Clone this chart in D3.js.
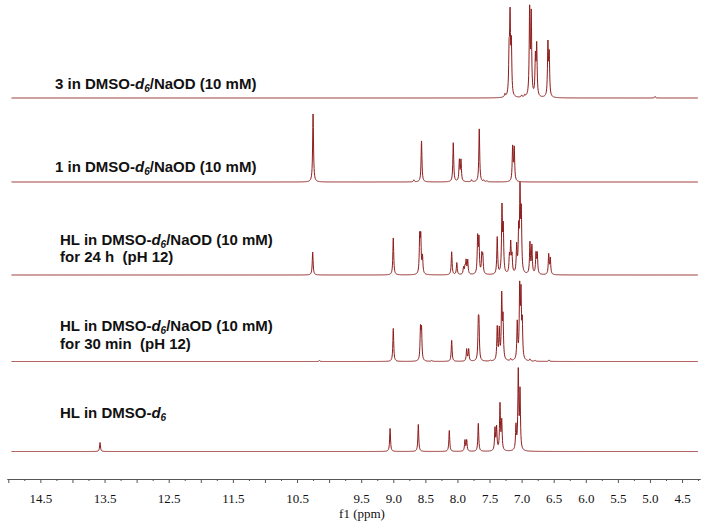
<!DOCTYPE html>
<html>
<head>
<meta charset="utf-8">
<script src="https://cdn.jsdelivr.net/npm/d3@7"></script>
<style>
  body { margin: 0; background: #fff; }
</style>
</head>
<body>
<script>

// Peak lists: shift (ppm) and peak height (arbitrary units)
var ppm3 = [7.26, 7.195, 7.18, 7.16, 7.00, 6.95, 6.875, 6.85, 6.785, 6.765, 6.59, 6.57, 4.92];
var int3 = [3, 40, 75, 50, 2, 2, 85, 80, 38, 50, 52, 41, 1.5];

var ppm1 = [10.25, 8.68, 8.56, 8.065, 7.97, 7.945, 7.78, 7.66, 7.59, 7.54, 7.14, 7.115];
var int1 = [68, 2, 41, 39, 21, 21, 2, 53, 1.5, 1, 34, 33];

var ppmHL24 = [10.256, 9.00, 8.588, 8.572, 8.545, 8.09, 8.01, 7.905, 7.882, 7.865, 7.84,
               7.685, 7.665, 7.62, 7.605, 7.38, 7.306, 7.286, 7.19, 7.17, 7.15,
               7.077, 7.046, 7.025, 7.005, 6.87, 6.84, 6.776, 6.756, 6.578, 6.553];
var intHL24 = [23, 37, 36, 35, 17, 23, 12, 7, 7, 13, 14,
               36, 34, 18, 17, 37, 65, 44, 17, 29, 17,
               27, 40, 79, 58, 31, 28, 20, 20, 20, 16];

var ppmHL30 = [10.15, 9.00, 8.576, 8.56, 8.40, 8.09, 7.856, 7.825, 7.675, 7.665, 7.49,
               7.38, 7.348, 7.31, 7.29, 7.17, 7.068, 7.03, 7.01, 6.99, 6.87, 6.79, 6.57];
var intHL30 = [1, 33, 31, 30, 1, 21, 12, 12, 33, 32, 1,
               33, 30, 63, 40, 2, 37, 69, 62, 35, 2, 1, 1.5];

var ppmHL = [13.57, 9.05, 8.61, 8.127, 7.883, 7.856, 7.675, 7.415, 7.39, 7.337, 7.31,
             7.088, 7.052, 7.025];
var intHL = [9, 23, 27, 21, 11, 11, 28, 22, 23, 46, 29, 24, 78, 58];

var labels = [
  ["3 in DMSO-d6/NaOD (10 mM)"],
  ["1 in DMSO-d6/NaOD (10 mM)"],
  ["HL in DMSO-d6/NaOD (10 mM)", "for 24 h  (pH 12)"],
  ["HL in DMSO-d6/NaOD (10 mM)", "for 30 min  (pH 12)"],
  ["HL in DMSO-d6"]
];

var tickLabels = [14.5, 13.5, 12.5, 11.5, 10.5, 9.5, 9.0, 8.5, 8.0, 7.5, 7.0, 6.5, 6.0, 5.5, 5.0, 4.5];
var majorTicks = d3.range(15.0, 4.49, -0.5);
var minorTicks = d3.range(14.75, 4.2, -0.5);

var spectra = [
  {ppm: ppm3, h: int3},
  {ppm: ppm1, h: int1},
  {ppm: ppmHL24, h: intHL24},
  {ppm: ppmHL30, h: intHL30},
  {ppm: ppmHL, h: intHL}
];

// layout
var w = 701, h = 522;
var baselines = [98, 182, 275, 361.5, 451.5];
var labelY = [[89], [172], [244.5, 262], [331, 348.5], [418]];
var labelX = [55, 55, 60, 60, 60];
var axisY = 479;
var halfWidth = 0.008;   // lorentzian half width in ppm

var svg = d3.select("body").append("svg")
    .attr("width", w)
    .attr("height", h);

// ppm axis runs right to left
var x = d3.scaleLinear()
    .domain([15.02, 4.22])
    .range([7, 700]);

var line = d3.line()
    .x(function(d) { return x(d[0]); })
    .y(function(d) { return d[1]; });

spectra.forEach(function(s, i) {

    var y = d3.scaleLinear()
        .domain([0, 100])
        .range([baselines[i], baselines[i] - 100]);

    // sample the line shape, always including the peak centres
    var grid = d3.range(14.95, 4.25, -0.004).concat(s.ppm);
    grid.sort(function(a, b) { return b - a; });

    var pts = grid.map(function(p) {
        var v = 0;
        for (var k = 0; k < s.ppm.length; k++) {
            var t = (p - s.ppm[k]) / halfWidth;
            v += s.h[k] / (1 + t * t);
        }
        return [p, y(v)];
    });

    svg.append("path")
        .datum(pts)
        .attr("fill", "none")
        .attr("stroke", "#8e1c1c")
        .attr("stroke-width", 1)
        .attr("stroke-linejoin", "round")
        .attr("d", line);
});

// spectrum labels, with italic d and subscript 6
labels.forEach(function(lines, i) {
    lines.forEach(function(str, j) {
        var t = svg.append("text")
            .attr("x", labelX[i])
            .attr("y", labelY[i][j])
            .style("font-family", "'Liberation Sans', Arial, sans-serif")
            .style("font-weight", "bold")
            .style("font-size", "15px")
            .style("white-space", "pre")
            .attr("fill", "#111");
        var parts = str.split("d6");
        if (parts.length > 1) {
            t.append("tspan").text(parts[0]);
            t.append("tspan").style("font-style", "italic").text("d");
            t.append("tspan").attr("dy", 3).style("font-size", "10px").style("font-style", "italic").text("6");
            t.append("tspan").attr("dy", -3).text(parts[1]);
        } else {
            t.text(str);
        }
    });
});

// axis: minor ticks first, then major ticks with labels
var minorAxis = d3.axisBottom(x)
    .tickValues(minorTicks)
    .tickSize(2)
    .tickSizeOuter(0)
    .tickFormat("");

var majorAxis = d3.axisBottom(x)
    .tickValues(majorTicks)
    .tickSize(4)
    .tickSizeOuter(0)
    .tickPadding(11)
    .tickFormat(function(d) {
        return tickLabels.indexOf(d) >= 0 ? d3.format(".1f")(d) : "";
    });

svg.append("g")
    .attr("transform", "translate(0," + axisY + ")")
    .call(minorAxis);

var gx = svg.append("g")
    .attr("transform", "translate(0," + axisY + ")")
    .call(majorAxis);

svg.selectAll(".domain").attr("stroke", "#555");
svg.selectAll(".tick line").attr("stroke", "#555");
gx.selectAll("text")
    .style("font-family", "'Liberation Serif', 'Times New Roman', serif")
    .style("font-size", "13px")
    .attr("fill", "#111");

svg.append("text")
    .attr("x", 362)
    .attr("y", 518)
    .attr("text-anchor", "middle")
    .style("font-family", "'Liberation Serif', 'Times New Roman', serif")
    .style("font-size", "13px")
    .attr("fill", "#111")
    .text("f1 (ppm)");

</script>
</body>
</html>
